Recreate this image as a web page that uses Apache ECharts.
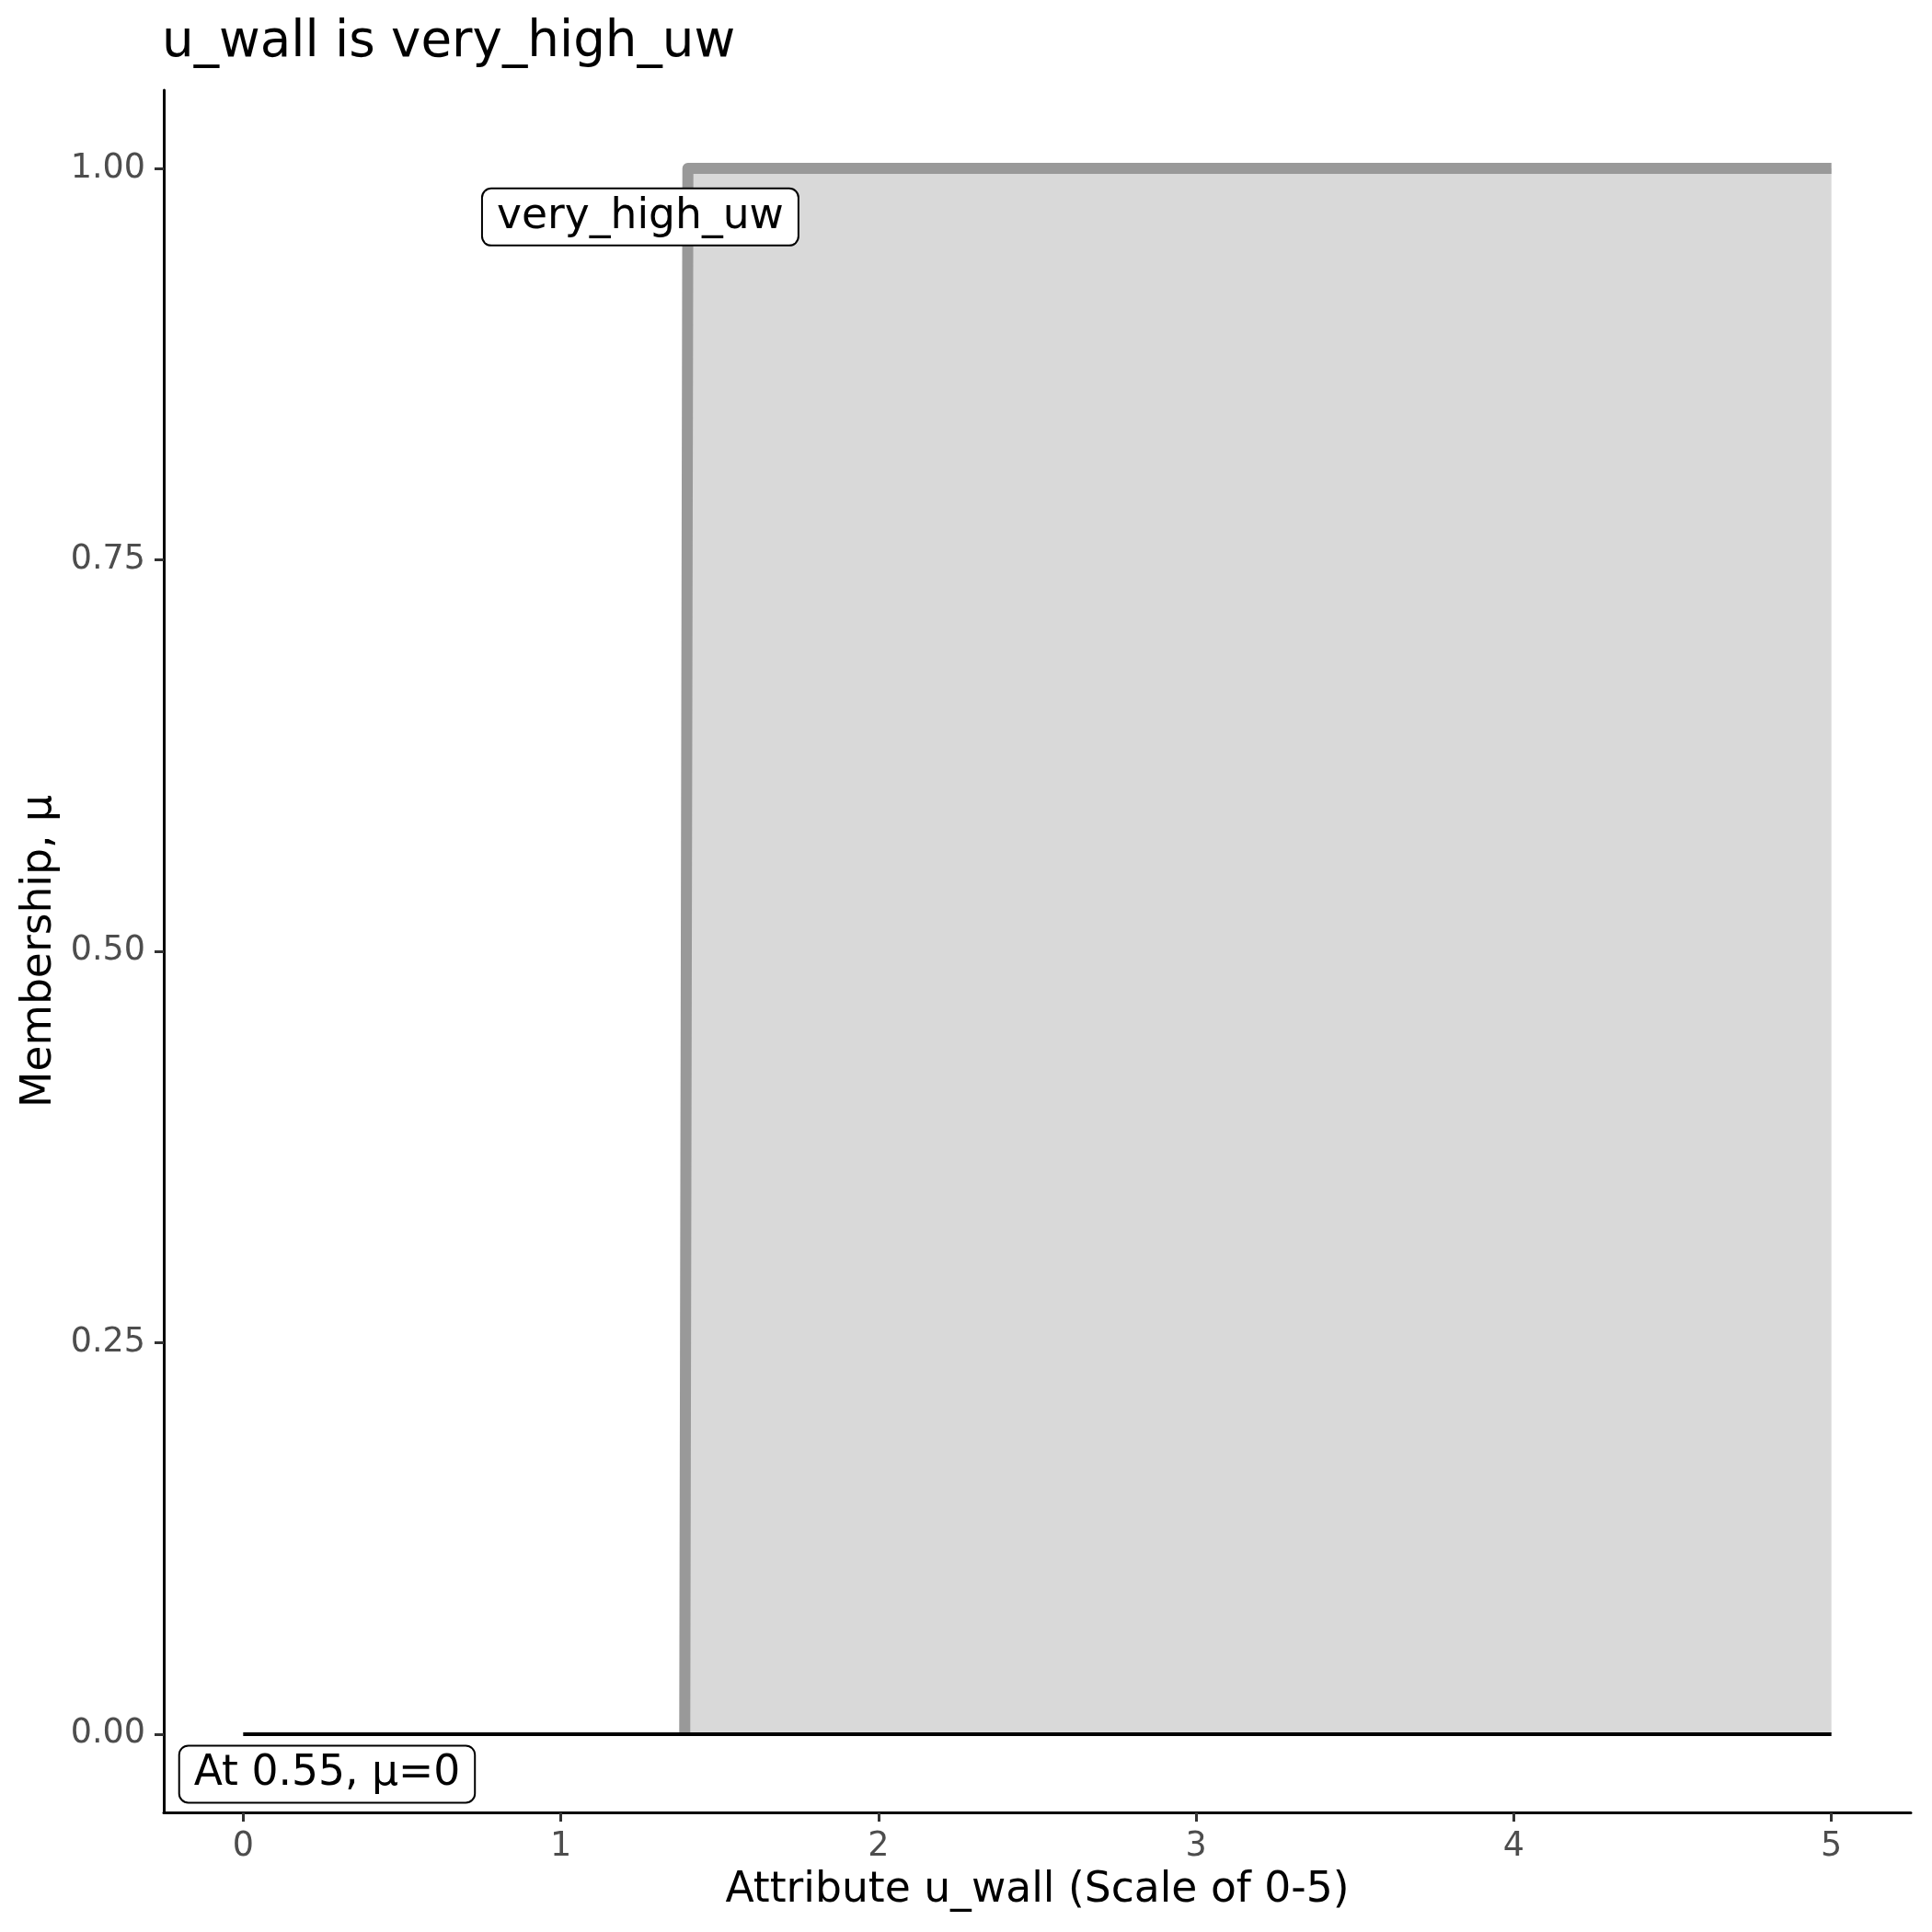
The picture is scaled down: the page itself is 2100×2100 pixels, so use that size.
<!DOCTYPE html>
<html>
<head>
<meta charset="utf-8">
<script src="https://cdn.jsdelivr.net/npm/echarts@6/dist/echarts.min.js"></script>
<style>html,body{margin:0;padding:0;background:#fff}#c{width:2100px;height:2100px}</style>
</head>
<body>
<div id="c"></div>
<script>
// ---- data ----
const titleText = 'u_wall is very_high_uw';
const xAxisTitle = 'Attribute u_wall (Scale of 0-5)';
const yAxisTitle = 'Membership, μ';
const stepX = [1.39, 1.40, 5];
const stepY = [0, 1, 1];
const baseX = [0, 5];
const baseY = [0, 0];
const xTicks = [0, 1, 2, 3, 4, 5];
const yTicks = [0, 0.25, 0.5, 0.75, 1];
const setLabel = 'very_high_uw';
const setLabelPos = [1.25, 0.969];
const noteLabel = 'At 0.55, μ=0';
const noteLabelPos = [0.264, -0.0256];

const FONT = 'DejaVu Sans';
const chart = echarts.init(document.getElementById('c'), null, {renderer: 'canvas'});

const labelStyle = {
  show: true, position: 'inside', fontFamily: FONT, fontSize: 45.6, color: '#000', opacity: 1,
  backgroundColor: '#fff', borderColor: '#000', borderWidth: 2, borderRadius: 9,
  padding: [8, 15, 6, 15]
};

chart.setOption({
  animation: false,
  backgroundColor: '#fff',
  title: {
    text: titleText, left: 176, top: 19, padding: 0,
    textStyle: {fontFamily: FONT, fontSize: 54.7, fontWeight: 'normal', color: '#000'}
  },
  grid: {left: 178, right: 23, top: 98, bottom: 130, containLabel: false},
  xAxis: {
    type: 'value', min: -0.25, max: 5.25,
    name: xAxisTitle, nameLocation: 'middle', nameGap: 62,
    nameTextStyle: {fontFamily: FONT, fontSize: 45.6, color: '#000'},
    axisLine: {onZero: false, lineStyle: {color: '#000', width: 3}},
    axisTick: {show: true, length: 10, lineStyle: {color: '#333', width: 3}, customValues: xTicks},
    axisLabel: {customValues: xTicks, margin: 19, fontFamily: FONT, fontSize: 36.5, color: '#4d4d4d',
      formatter: v => String(v)},
    splitLine: {show: false}
  },
  yAxis: {
    type: 'value', min: -0.05, max: 1.05,
    name: yAxisTitle, nameLocation: 'middle', nameGap: 110,
    nameTextStyle: {fontFamily: FONT, fontSize: 45.6, color: '#000'},
    axisLine: {onZero: false, lineStyle: {color: '#000', width: 3}},
    axisTick: {show: true, length: 10, lineStyle: {color: '#333', width: 3}, customValues: yTicks},
    axisLabel: {customValues: yTicks, margin: 20, fontFamily: FONT, fontSize: 36.5, color: '#4d4d4d',
      formatter: v => v.toFixed(2)},
    splitLine: {show: false}
  },
  series: [
    {
      type: 'line', z: 2, showSymbol: false, symbol: 'none',
      data: stepX.map((x, i) => [x, stepY[i]]),
      lineStyle: {color: '#999999', width: 12, join: 'round', cap: 'butt'},
      areaStyle: {color: '#d9d9d9', opacity: 1, origin: 0}
    },
    {
      type: 'line', z: 3, showSymbol: false, symbol: 'none',
      data: baseX.map((x, i) => [x, baseY[i]]),
      lineStyle: {color: '#000', width: 4}
    },
    {
      type: 'scatter', z: 5, symbolSize: 0,
      itemStyle: {opacity: 1},
      data: [
        {value: setLabelPos, name: setLabel},
        {value: noteLabelPos, name: noteLabel}
      ],
      label: Object.assign({}, labelStyle, {formatter: p => p.name}),
      emphasis: {disabled: true}
    }
  ]
});
</script>
</body>
</html>
